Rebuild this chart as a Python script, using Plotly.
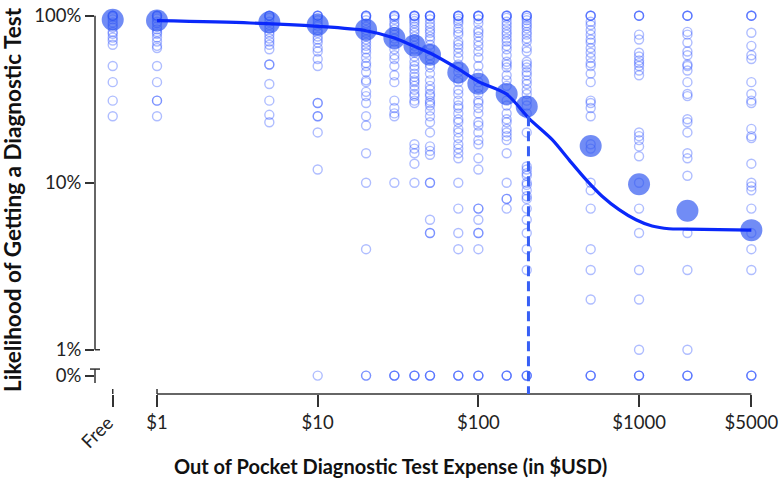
import math
import plotly.graph_objects as go

# ---------------- data ----------------
PRICES = [0, 1, 5, 10, 20, 30, 40, 50, 75, 100, 150, 200, 500, 1000, 2000, 5000]
X_TICK_VALUES = [1, 10, 100, 1000, 5000]
X_TICK_TEXT = ["$1", "$10", "$100", "$1000", "$5000"]
FREE_LABEL = "Free"
Y_TICK_VALUES = [0, 1, 10, 100]
Y_TICK_TEXT = ["0%", "1%", "10%", "100%"]

resp_free = [100, 100, 100, 98, 95, 91, 88, 85, 80, 78, 74, 71, 67, 50, 40, 31, 25]
resp_1 = [100, 100, 100, 98, 96, 92, 90, 86, 83, 80, 78, 74, 70, 66, 64, 50, 40, 31, 31, 25]
resp_5 = [100, 100, 100, 97, 92, 88, 84, 80, 77, 73, 70, 67, 63, 51, 51, 39, 31, 25.5, 23]
resp_10 = [100, 100, 100, 97, 94, 90, 87, 82, 79, 75, 72, 69, 64, 61, 55, 50, 30, 30, 25, 25, 20, 12, 0]
resp_20 = [100, 100, 100, 98, 94, 90, 86, 82, 79, 75, 72, 69, 66, 63, 60, 56, 52, 50, 46, 41, 40, 35,
           33, 30, 25, 22, 15, 10, 4, 0, 0]
resp_30 = [100, 100, 100, 98, 95, 90, 87, 83, 80, 77, 73, 70, 67, 63, 58, 55, 50, 44, 40, 31, 28, 26,
           25, 10, 0, 0, 0]
resp_40 = [100, 100, 100, 99, 96, 93, 90, 86, 82, 79, 75, 72, 69, 66, 63, 60, 57, 53, 50, 48, 45, 43,
           41, 40, 38, 36, 34, 33, 31, 30, 17, 16, 15, 13, 10, 0, 0, 0]
resp_50 = [100, 100, 100, 99, 95, 90, 86, 82, 79, 75, 72, 67, 63, 58, 55, 51, 49, 45, 41, 38, 36, 34,
           33, 31, 30, 29, 27, 25, 23, 20, 16.5, 15.5, 14.7, 10, 10, 6, 5, 5, 0, 0, 0]
resp_75 = [100, 100, 100, 99, 96, 93, 90, 84, 80, 77, 70, 67, 64, 60, 56, 51, 49, 46, 42, 40, 36, 34,
           31, 29, 28, 26, 24, 23, 21, 20, 18.5, 17, 16, 15, 14, 10, 7, 5, 4, 0, 0, 0]
resp_100 = [100, 100, 100, 99, 95, 90, 82, 79, 75, 70, 66, 61, 56, 50, 45, 40, 37, 34, 31, 30, 28, 26,
            23, 22, 20, 18, 17, 14, 12, 7, 7, 6, 5, 5, 4, 0, 0, 0]
resp_150 = [100, 100, 100, 97, 92, 88, 84, 80, 77, 73, 70, 66, 63, 58, 53, 51, 49, 44, 41, 38, 31, 29,
            26, 24, 23, 21, 20, 19, 18, 15, 10, 8, 8, 7, 0, 0, 0]
resp_200 = [100, 100, 100, 97, 94, 90, 87, 84, 80, 77, 73, 70, 64, 61, 53, 51, 49, 46, 44, 41, 39, 36,
            34, 31, 29, 26, 20, 12.5, 12, 11.4, 11, 10, 9.7, 9, 8.3, 8, 7, 6, 5, 4, 3, 0, 0, 0]
resp_500 = [100, 100, 100, 92, 88, 82, 77, 72, 69, 64, 60, 56, 52, 50, 45, 40, 31, 30, 28, 25, 17, 16,
            10, 9, 7, 4, 3, 2, 0, 0, 0]
resp_1000 = [100, 100, 100, 77, 72, 60, 57, 54, 52, 50, 47, 44, 20, 19, 18, 16.5, 14.4, 10, 7, 5, 3, 2,
             1, 0, 0, 0]
resp_2000 = [100, 100, 100, 80, 77, 69, 61, 58, 51, 50, 47, 40, 34, 33, 24, 23, 20, 15, 14, 11, 5, 3,
             1, 0, 0, 0]
resp_5000 = [100, 100, 100, 79, 66, 58, 55, 40, 34, 31, 30, 21, 19, 18.5, 13, 10, 9.5, 9, 7, 5, 4, 3,
             0, 0, 0]

RESPONSES_BY_PRICE = [resp_free, resp_1, resp_5, resp_10, resp_20, resp_30, resp_40, resp_50,
                      resp_75, resp_100, resp_150, resp_200, resp_500, resp_1000, resp_2000, resp_5000]

MEAN_LIKELIHOOD = [94.6, 93.7, 91.2, 88.3, 82.5, 73.5, 66.4, 58.4, 45.7, 39.1, 34.0, 28.6, 16.6, 9.8,
                   6.8, 5.2]

FIT_X = [1, 3.8, 10, 20, 30, 40, 50, 75, 100, 150, 207, 288, 367, 469, 589, 751, 957, 1205, 1535,
         1959, 3140, 5000]
FIT_Y = [93.3, 90.4, 86.3, 81.3, 73.5, 65.5, 59.8, 48.0, 40.3, 33.9, 24.2, 18.1, 13.7, 10.4, 8.3, 6.9,
         6.0, 5.5, 5.3, 5.28, 5.24, 5.2]

THRESHOLD_PRICE = 205
THRESHOLD_LIKELIHOOD = 25

# ---------------- scale conventions ----------------
FREE_POS = 0.53      # log-axis position used for "Free" ($0)
ZERO_POS = 0.7       # log-axis position used for 0% (below the axis break)
BREAK_TOP, BREAK_BOTTOM = 0.766, 0.632

W, H = 780, 489
ML, MR, MT, MB = 95, 10, 5, 95
PW, PH = W - ML - MR, H - MT - MB
X_RANGE = [-0.386, 3.815]
Y_RANGE = [-0.265, 2.064]


def xpos(p):
    return FREE_POS if p == 0 else p


def ypos(v):
    return ZERO_POS if v == 0 else v


pts_x, pts_y = [], []
for price, resp in zip(PRICES, RESPONSES_BY_PRICE):
    for r in resp:
        pts_x.append(xpos(price))
        pts_y.append(ypos(r))

fig = go.Figure()

fig.add_trace(go.Scatter(
    x=pts_x, y=pts_y, mode="markers", cliponaxis=False, hoverinfo="skip",
    marker=dict(symbol="circle-open", size=9, color="rgba(25,65,255,0.35)",
                line=dict(width=1.4))))

fig.add_trace(go.Scatter(
    x=[xpos(p) for p in PRICES], y=MEAN_LIKELIHOOD, mode="markers", cliponaxis=False,
    marker=dict(size=22, color="rgba(45,85,240,0.68)", line=dict(width=0))))

fig.add_trace(go.Scatter(
    x=FIT_X, y=FIT_Y, mode="lines", cliponaxis=False,
    line=dict(color="rgb(10,40,250)", width=3.2, shape="spline", smoothing=0.8)))

axis_col = "#333333"
shapes = [
    # y axis (100% .. 1%)
    dict(type="line", xref="paper", yref="y", x0=0, x1=0, y0=1, y1=100,
         line=dict(color=axis_col, width=1.5)),
    dict(type="line", xref="paper", yref="y", x0=0, x1=5 / PW, y0=1, y1=1,
         line=dict(color=axis_col, width=1.5)),
    # broken piece for 0%
    dict(type="line", xref="paper", yref="y", x0=0, x1=0, y0=BREAK_BOTTOM, y1=BREAK_TOP,
         line=dict(color=axis_col, width=1.5)),
    dict(type="line", xref="paper", yref="y", x0=-5 / PW, x1=5 / PW, y0=BREAK_TOP, y1=BREAK_TOP,
         line=dict(color=axis_col, width=1.5)),
    # x axis ($1 .. $5000)
    dict(type="line", xref="x", yref="paper", x0=1, x1=5000, y0=0, y1=0,
         line=dict(color=axis_col, width=1.5)),
    dict(type="line", xref="x", yref="paper", x0=1, x1=1, y0=0, y1=5 / PH,
         line=dict(color=axis_col, width=1.5)),
    dict(type="line", xref="x", yref="paper", x0=FREE_POS, x1=FREE_POS, y0=0, y1=5 / PH,
         line=dict(color=axis_col, width=1.5)),
    # threshold
    dict(type="line", xref="x", yref="y", x0=THRESHOLD_PRICE, x1=THRESHOLD_PRICE,
         y0=THRESHOLD_LIKELIHOOD, y1=10 ** Y_RANGE[0], layer="above",
         line=dict(color="rgb(55,95,245)", width=3, dash="10px,5px")),
]

tick_font = dict(family="Lato", size=18.5, color="#222222")
xtitle_font = dict(family="Lato", size=20, color="#111111")
ytitle_font = dict(family="Lato", size=22.5, color="#111111")

annotations = [
    dict(text=FREE_LABEL, xref="x", yref="paper", x=math.log10(FREE_POS), y=0,
         xanchor="center", yanchor="middle", xshift=-16, yshift=-38, textangle=-45,
         showarrow=False, font=tick_font),
    dict(text="<b>Out of Pocket Diagnostic Test Expense (in $USD)</b>", xref="paper", yref="paper",
         x=(390 - ML) / PW, y=-(466 - (MT + PH)) / PH, xanchor="center", yanchor="middle",
         showarrow=False, font=xtitle_font),
    dict(text="<b>Likelihood of Getting a Diagnostic Test</b>", xref="paper", yref="paper",
         x=(13 - ML) / PW, y=((MT + PH) - 200) / PH, xanchor="center", yanchor="middle",
         textangle=-90, showarrow=False, font=ytitle_font),
]

fig.update_layout(
    width=W, height=H, margin=dict(l=ML, r=MR, t=MT, b=MB),
    paper_bgcolor="white", plot_bgcolor="white", showlegend=False,
    shapes=shapes, annotations=annotations,
    xaxis=dict(type="log", range=X_RANGE, showline=False, showgrid=False, zeroline=False,
               tickvals=[FREE_POS] + X_TICK_VALUES, ticktext=[""] + X_TICK_TEXT,
               ticks="outside", ticklen=12, tickwidth=1.5, tickcolor=axis_col,
               tickfont=tick_font, automargin=False),
    yaxis=dict(type="log", range=Y_RANGE, showline=False, showgrid=False, zeroline=False,
               tickvals=[ypos(v) for v in Y_TICK_VALUES], ticktext=Y_TICK_TEXT,
               ticks="outside", ticklen=9, tickwidth=1.5, tickcolor=axis_col,
               tickfont=tick_font, automargin=False),
)

fig.write_html("out.html", config={"displayModeBar": False},
               post_script="document.body.style.margin='0px';")
